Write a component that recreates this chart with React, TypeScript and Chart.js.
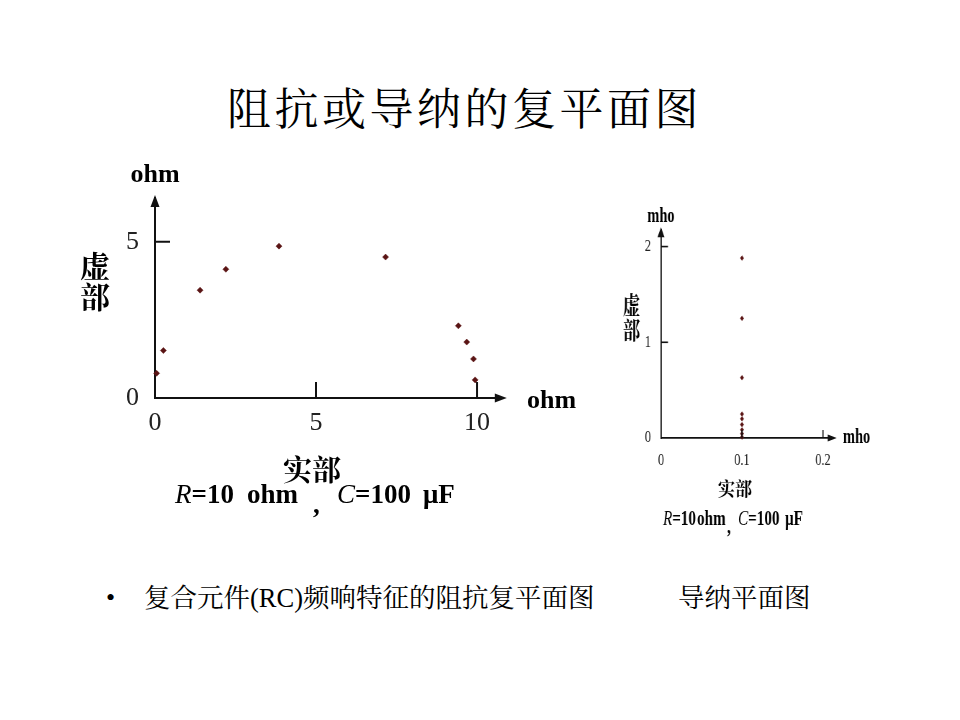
import React, { useEffect, useRef } from "react";
import { Chart, registerables } from "chart.js";

Chart.register(...registerables);

// ---- data ----
// Impedance plane (ohm): real part, imaginary part
const impedanceRe = [0.05, 0.26, 1.4, 2.2, 3.85, 7.16, 9.42, 9.68, 9.89, 9.94];
const impedanceIm = [0.79, 1.52, 3.45, 4.12, 4.86, 4.51, 2.31, 1.79, 1.25, 0.58];
// Admittance plane (mho): real part, imaginary part
const admittanceRe = [0.1, 0.1, 0.1, 0.1, 0.1, 0.1, 0.1, 0.1, 0.1];
const admittanceIm = [1.88, 1.25, 0.63, 0.25, 0.2, 0.14, 0.085, 0.045, 0.01];
// tick labels
const zXTicks = [0, 5, 10];
const zYTicks = [0, 5];
const yXTicks = [0, 0.1, 0.2];
const yYTicks = [0, 1, 2];
// axis ranges
const zXMax = 10.8;
const zYMax = 6.4;
const yXMax = 0.212;
const yYMax = 2.17;

const serif = '"Liberation Serif", "Times New Roman", serif';
const cjk = '"Noto Serif CJK SC", "Noto Sans CJK SC", sans-serif';
const SX = 0.72; // horizontal compression of the admittance figure

function txt(ctx: CanvasRenderingContext2D, s: string, x: number, y: number, font: string, align: CanvasTextAlign = "left", baseline: CanvasTextBaseline = "alphabetic", sx = 1) {
  ctx.save();
  ctx.font = font;
  ctx.textAlign = align;
  ctx.textBaseline = baseline;
  ctx.translate(x, y);
  ctx.scale(sx, 1);
  ctx.fillText(s, 0, 0);
  const w = ctx.measureText(s).width * sx;
  ctx.restore();
  return w;
}

function line(ctx: CanvasRenderingContext2D, x1: number, y1: number, x2: number, y2: number) {
  ctx.beginPath();
  ctx.moveTo(x1, y1);
  ctx.lineTo(x2, y2);
  ctx.stroke();
}

function tri(ctx: CanvasRenderingContext2D, pts: number[][]) {
  ctx.beginPath();
  ctx.moveTo(pts[0][0], pts[0][1]);
  ctx.lineTo(pts[1][0], pts[1][1]);
  ctx.lineTo(pts[2][0], pts[2][1]);
  ctx.closePath();
  ctx.fill();
}

const leftDecor = {
  id: "leftDecor",
  afterDraw(chart: any) {
    const { ctx } = chart;
    const { left: L, right: R, top: T, bottom: B } = chart.chartArea;
    const xs = chart.scales.x;
    const ys = chart.scales.y;
    ctx.save();
    ctx.strokeStyle = "#111";
    ctx.fillStyle = "#111";
    ctx.lineWidth = 2;
    xs.ticks.forEach((t: any) => {
      if (t.value === 0) return;
      const p = xs.getPixelForValue(t.value);
      line(ctx, p, B, p, B - 16);
    });
    ys.ticks.forEach((t: any) => {
      if (t.value === 0) return;
      const p = ys.getPixelForValue(t.value);
      line(ctx, L, p, L + 15, p);
    });
    tri(ctx, [[L, T - 3], [L - 4.5, T + 9], [L + 4.5, T + 9]]);
    tri(ctx, [[R + 4, B], [R - 8, B - 4.5], [R - 8, B + 4.5]]);

    ctx.fillStyle = "#000";
    txt(ctx, "ohm", L, 32, `bold 26px ${serif}`, "center");
    txt(ctx, "ohm", 467, 258, `bold 26px ${serif}`, "left");
    txt(ctx, "虚", 35, 116, `bold 30px ${cjk}`, "center", "middle");
    txt(ctx, "部", 35, 147, `bold 30px ${cjk}`, "center", "middle");
    txt(ctx, "实部", 252, 320, `bold 29px ${cjk}`, "center", "middle");
    let x = 115;
    x += txt(ctx, "R", x, 353, `italic 27px ${serif}`);
    txt(ctx, "=10", x, 353, `bold 27px ${serif}`);
    txt(ctx, "ohm", 187, 353, `bold 27px ${serif}`);
    txt(ctx, ",", 253, 363, `bold 27px ${serif}`);
    x = 277;
    x += txt(ctx, "C", x, 353, `italic 27px ${serif}`);
    txt(ctx, "=100", x, 353, `bold 27px ${serif}`);
    txt(ctx, "μF", 363, 353, `bold 27px ${serif}`);
    ctx.restore();
  },
};

const rightDecor = {
  id: "rightDecor",
  afterDraw(chart: any) {
    const { ctx } = chart;
    const { left: L, right: R, top: T, bottom: B } = chart.chartArea;
    const xs = chart.scales.x;
    const ys = chart.scales.y;
    ctx.save();
    ctx.strokeStyle = "#111";
    ctx.fillStyle = "#111";
    ctx.lineWidth = 1.6;
    xs.ticks.forEach((t: any) => {
      if (t.value === 0) return;
      const p = xs.getPixelForValue(t.value);
      line(ctx, p, B, p, B - 8);
    });
    ys.ticks.forEach((t: any) => {
      if (t.value === 0) return;
      const p = ys.getPixelForValue(t.value);
      line(ctx, L, p, L + 7 / SX, p);
    });
    tri(ctx, [[L, T - 3], [L - 3.5 / SX, T + 7], [L + 3.5 / SX, T + 7]]);
    tri(ctx, [[R + 4 / SX, B], [R - 5 / SX, B - 3.5], [R - 5 / SX, B + 3.5]]);

    ctx.fillStyle = "#000";
    txt(ctx, "mho", L, 32, `bold 20px ${serif}`, "center");
    txt(ctx, "mho", 337.5, 253, `bold 20px ${serif}`, "left");
    txt(ctx, "虚", 43.75, 115, `bold 24px ${cjk}`, "center", "middle");
    txt(ctx, "部", 43.75, 140, `bold 24px ${cjk}`, "center", "middle");
    txt(ctx, "实部", 187.5, 299, `bold 19px ${cjk}`, "center", "middle", 1.25);
    let x = 87.5;
    x += txt(ctx, "R", x, 335, `italic 21px ${serif}`);
    txt(ctx, "=10", x, 335, `bold 21px ${serif}`);
    txt(ctx, "ohm", 134.7, 335, `bold 21px ${serif}`);
    txt(ctx, ",", 176.4, 343, `bold 21px ${serif}`);
    x = 191.7;
    x += txt(ctx, "C", x, 335, `italic 21px ${serif}`);
    txt(ctx, "=100", x, 335, `bold 21px ${serif}`);
    txt(ctx, "μF", 257, 335, `bold 21px ${serif}`);
    ctx.restore();
  },
};

function axisCommon(ticks: number[], fontSize: number, padding: number, borderWidth: number, fit: (s: any) => void, fmt: (v: number) => string) {
  return {
    type: "linear" as const,
    afterBuildTicks: (s: any) => {
      s.ticks = ticks.map((v) => ({ value: v }));
    },
    afterFit: fit,
    grid: { display: false, drawTicks: false },
    border: { display: true, color: "#111", width: borderWidth },
    ticks: {
      autoSkip: false,
      maxRotation: 0,
      padding,
      color: "#222",
      font: { family: serif, size: fontSize },
      callback: (v: any) => fmt(Number(v)),
    },
  };
}

const intFmt = (v: number) => v.toFixed(0);
const decFmt = (v: number) => (v === 0 ? "0" : v.toFixed(1));

export default function App() {
  const leftRef = useRef<HTMLCanvasElement>(null);
  const rightRef = useRef<HTMLCanvasElement>(null);

  useEffect(() => {
    const left = new Chart(leftRef.current as HTMLCanvasElement, {
      type: "scatter",
      data: {
        datasets: [
          {
            data: impedanceRe.map((x, i) => ({ x, y: impedanceIm[i] })),
            pointStyle: "rectRot",
            pointRadius: 3,
            backgroundColor: "#5a1414",
            borderColor: "#5a1414",
            borderWidth: 0.5,
            clip: false as any,
          },
        ],
      },
      options: {
        animation: false,
        responsive: false,
        events: [],
        layout: { padding: { left: 55, right: 97.2, top: 48, bottom: 102 } },
        plugins: { legend: { display: false }, tooltip: { enabled: false } },
        scales: {
          x: { ...axisCommon(zXTicks, 26, 10, 2, (s: any) => { s.height = 40; }, intFmt), min: 0, max: zXMax },
          y: { ...axisCommon(zYTicks, 26, 16, 2, (s: any) => { s.width = 40; }, intFmt), min: 0, max: zYMax },
        },
      } as any,
      plugins: [leftDecor],
    });

    const right = new Chart(rightRef.current as HTMLCanvasElement, {
      type: "scatter",
      data: {
        datasets: [
          {
            data: admittanceRe.map((x, i) => ({ x, y: admittanceIm[i] })),
            pointStyle: "rectRot",
            pointRadius: 2.4,
            backgroundColor: "#5a1414",
            borderColor: "#5a1414",
            borderWidth: 0.5,
            clip: false as any,
          },
        ],
      },
      options: {
        animation: false,
        responsive: false,
        events: [],
        layout: { padding: { left: 44.7, right: 96.8, top: 40.3, bottom: 72 } },
        plugins: { legend: { display: false }, tooltip: { enabled: false } },
        scales: {
          x: { ...axisCommon(yXTicks, 17, 12, 1.8, (s: any) => { s.height = 30; }, decFmt), min: 0, max: yXMax },
          y: { ...axisCommon(yYTicks, 17, 14, 1.8, (s: any) => { s.width = 40; }, intFmt), min: 0, max: yYMax },
        },
      } as any,
      plugins: [rightDecor],
    });

    let alive = true;
    const redraw = () => {
      if (!alive) return;
      left.update("none");
      right.update("none");
    };
    const timers = [setTimeout(redraw, 30), setTimeout(redraw, 200), setTimeout(redraw, 600)];
    if ((document as any).fonts && (document as any).fonts.ready) {
      (document as any).fonts.ready.then(redraw);
    }

    return () => {
      alive = false;
      timers.forEach((t) => clearTimeout(t));
      left.destroy();
      right.destroy();
    };
  }, []);

  const textFont = `"Liberation Serif", ${cjk}`;

  return (
    <div style={{ position: "fixed", left: 0, top: 0, width: 960, height: 720, background: "#fff", overflow: "hidden", color: "#000" }}>
      <div style={{ position: "absolute", left: 227, top: 84, fontFamily: cjk, fontSize: 44, letterSpacing: 3.5, lineHeight: "44px", whiteSpace: "nowrap" }}>
        阻抗或导纳的复平面图
      </div>
      <canvas ref={leftRef} width={540} height={390} style={{ position: "absolute", left: 60, top: 150 }} />
      <canvas ref={rightRef} width={420} height={350} style={{ position: "absolute", left: 600, top: 190, transform: `scaleX(${SX})`, transformOrigin: "0 0" }} />
      <div style={{ position: "absolute", left: 106, top: 585, fontFamily: serif, fontSize: 26, lineHeight: "26px" }}>•</div>
      <div style={{ position: "absolute", left: 144, top: 585, fontFamily: textFont, fontSize: 26.5, lineHeight: "26px", whiteSpace: "nowrap" }}>
        复合元件(RC)频响特征的阻抗复平面图
      </div>
      <div style={{ position: "absolute", left: 678, top: 585, fontFamily: textFont, fontSize: 26.5, lineHeight: "26px", whiteSpace: "nowrap" }}>
        导纳平面图
      </div>
    </div>
  );
}
